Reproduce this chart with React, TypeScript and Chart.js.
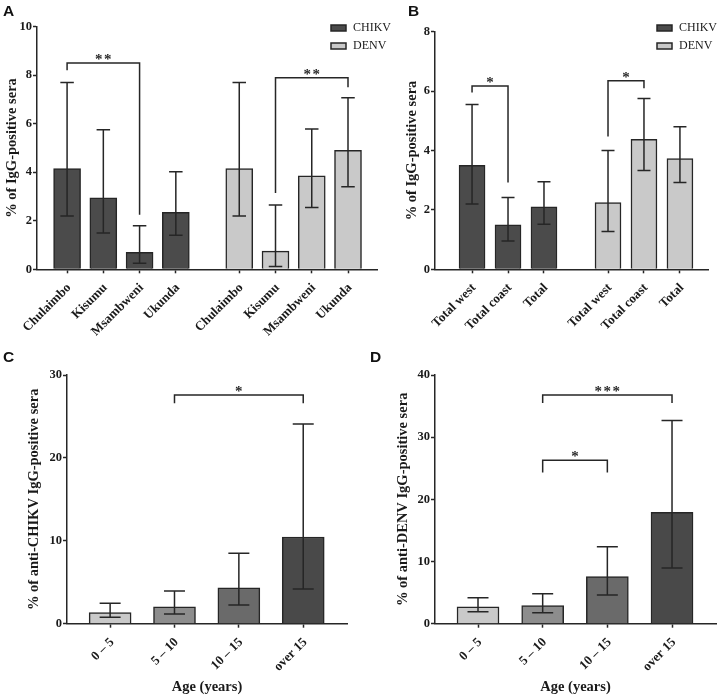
import React, { useEffect, useRef } from 'react';
import { Chart, registerables } from 'chart.js';

Chart.register(...registerables);

const PAGE_W = 717;
const PAGE_H = 696;

// ---------- Panel A data ----------
const aCategories = ['Chulaimbo', 'Kisumu', 'Msambweni', 'Ukunda'];
const aPosChikv = [0, 1, 2, 3];
const aPosDenv = [4.75, 5.75, 6.75, 7.75];
const aChikv = [4.15, 2.95, 0.7, 2.35];
const aChikvLow = [2.2, 1.5, 0.25, 1.4];
const aChikvHigh = [7.7, 5.75, 1.8, 4.02];
const aDenv = [4.15, 0.75, 3.85, 4.9];
const aDenvLow = [2.2, 0.12, 2.55, 3.4];
const aDenvHigh = [7.7, 2.65, 5.78, 7.07];
const aTicks = [0, 2, 4, 6, 8, 10];

// ---------- Panel B data ----------
const bCategories = ['Total west', 'Total coast', 'Total'];
const bPosChikv = [0, 1, 2];
const bPosDenv = [3.78, 4.78, 5.78];
const bChikv = [3.5, 1.5, 2.1];
const bChikvLow = [2.2, 0.95, 1.52];
const bChikvHigh = [5.55, 2.42, 2.95];
const bDenv = [2.25, 4.38, 3.73];
const bDenvLow = [1.27, 3.33, 2.92];
const bDenvHigh = [4.0, 5.75, 4.8];
const bTicks = [0, 2, 4, 6, 8];

// ---------- Panels C / D data ----------
const ageGroups = ['0 \u2013 5', '5 \u2013 10', '10 \u2013 15', 'over 15'];
const agePos = [0, 1, 2, 3];
const ageColors = ['#c9c9c9', '#8d8d8d', '#6a6a6a', '#494949'];
const cChikv = [1.33, 2.05, 4.34, 10.46];
const cChikvLow = [0.77, 1.17, 2.26, 4.19];
const cChikvHigh = [2.46, 3.94, 8.49, 24.1];
const cTicks = [0, 10, 20, 30];
const dDenv = [2.73, 2.9, 7.56, 17.9];
const dDenvLow = [1.93, 1.77, 4.61, 8.96];
const dDenvHigh = [4.18, 4.82, 12.38, 32.7];
const dTicks = [0, 10, 20, 30, 40];

const legendItems = [
  { label: 'CHIKV', color: '#4b4b4b' },
  { label: 'DENV', color: '#c9c9c9' },
];

const INK = '#262626';
const SERIF = '"Liberation Serif", "Times New Roman", serif';
const SANS = '"Liberation Sans", Arial, sans-serif';

type Bracket = { x1: number; x2: number; top: number; leg1: number; leg2: number; label: string };
type Series = { pos: number[]; values: number[]; low: number[]; high: number[]; colors: string | string[]; label: string };
type Panel = {
  letter: string;
  letterX: number;
  letterY: number;
  area: { l: number; t: number; r: number; b: number };
  xMin: number;
  xMax: number;
  yTicks: number[];
  tickPos: number[];
  tickLabels: string[];
  series: Series[];
  barW: number;
  brackets: Bracket[];
  yTitle: string;
  yTitleX: number;
  xTitle?: string;
  xTitleY?: number;
  legend?: { x: number; y: number };
};

const panels: Panel[] = [
  {
    letter: 'A', letterX: 3, letterY: 16,
    area: { l: 37, t: 26.7, r: 377, b: 269.3 },
    xMin: -0.83, xMax: 8.55, yTicks: aTicks,
    tickPos: [...aPosChikv, ...aPosDenv],
    tickLabels: [...aCategories, ...aCategories],
    series: [
      { label: 'CHIKV', pos: aPosChikv, values: aChikv, low: aChikvLow, high: aChikvHigh, colors: legendItems[0].color },
      { label: 'DENV', pos: aPosDenv, values: aDenv, low: aDenvLow, high: aDenvHigh, colors: legendItems[1].color },
    ],
    barW: 27,
    brackets: [
      { x1: 0, x2: 2, top: 8.5, leg1: 8.2, leg2: 2.25, label: '**' },
      { x1: 5.75, x2: 7.75, top: 7.9, leg1: 3.15, leg2: 7.5, label: '**' },
    ],
    yTitle: '% of IgG-positive sera', yTitleX: 12,
    legend: { x: 331, y: 28 },
  },
  {
    letter: 'B', letterX: 408, letterY: 16,
    area: { l: 435, t: 31.7, r: 708, b: 269.3 },
    xMin: -1.03, xMax: 6.56, yTicks: bTicks,
    tickPos: [...bPosChikv, ...bPosDenv],
    tickLabels: [...bCategories, ...bCategories],
    series: [
      { label: 'CHIKV', pos: bPosChikv, values: bChikv, low: bChikvLow, high: bChikvHigh, colors: legendItems[0].color },
      { label: 'DENV', pos: bPosDenv, values: bDenv, low: bDenvLow, high: bDenvHigh, colors: legendItems[1].color },
    ],
    barW: 26,
    brackets: [
      { x1: 0, x2: 1, top: 6.17, leg1: 5.95, leg2: 2.92, label: '*' },
      { x1: 3.78, x2: 4.78, top: 6.35, leg1: 4.47, leg2: 6.1, label: '*' },
    ],
    yTitle: '% of IgG-positive sera', yTitleX: 412,
    legend: { x: 657, y: 28 },
  },
  {
    letter: 'C', letterX: 3, letterY: 362,
    area: { l: 67, t: 375, r: 347, b: 623.7 },
    xMin: -0.67, xMax: 3.68, yTicks: cTicks,
    tickPos: agePos, tickLabels: ageGroups,
    series: [
      { label: 'CHIKV', pos: agePos, values: cChikv, low: cChikvLow, high: cChikvHigh, colors: ageColors },
    ],
    barW: 42,
    brackets: [{ x1: 1, x2: 3, top: 27.6, leg1: 26.6, leg2: 26.6, label: '*' }],
    yTitle: '% of anti-CHIKV IgG-positive sera', yTitleX: 34,
    xTitle: 'Age (years)', xTitleY: 687,
  },
  {
    letter: 'D', letterX: 370, letterY: 362,
    area: { l: 435, t: 375, r: 716, b: 623.7 },
    xMin: -0.665, xMax: 3.68, yTicks: dTicks,
    tickPos: agePos, tickLabels: ageGroups,
    series: [
      { label: 'DENV', pos: agePos, values: dDenv, low: dDenvLow, high: dDenvHigh, colors: ageColors },
    ],
    barW: 42,
    brackets: [
      { x1: 1, x2: 3, top: 36.8, leg1: 35.5, leg2: 35.5, label: '***' },
      { x1: 1, x2: 2, top: 26.3, leg1: 24.3, leg2: 24.3, label: '*' },
    ],
    yTitle: '% of anti-DENV IgG-positive sera', yTitleX: 403,
    xTitle: 'Age (years)', xTitleY: 687,
  },
];

function overlayPlugin(p: Panel) {
  return {
    id: 'overlay' + p.letter,
    afterDatasetsDraw(chart: any) {
      const ctx = chart.ctx as CanvasRenderingContext2D;
      const xs = chart.scales.x;
      const ys = chart.scales.y;
      ctx.save();
      ctx.strokeStyle = INK;
      ctx.lineWidth = 1.5;
      ctx.lineCap = 'butt';
      // error bars
      const cap = p.barW / 4;
      p.series.forEach((s) => {
        s.pos.forEach((v, i) => {
          const x = xs.getPixelForValue(v);
          const yl = ys.getPixelForValue(s.low[i]);
          const yh = ys.getPixelForValue(s.high[i]);
          ctx.beginPath();
          ctx.moveTo(x, yl);
          ctx.lineTo(x, yh);
          ctx.moveTo(x - cap, yl);
          ctx.lineTo(x + cap, yl);
          ctx.moveTo(x - cap, yh);
          ctx.lineTo(x + cap, yh);
          ctx.stroke();
        });
      });
      // significance brackets
      p.brackets.forEach((b) => {
        const x1 = xs.getPixelForValue(b.x1);
        const x2 = xs.getPixelForValue(b.x2);
        const yt = ys.getPixelForValue(b.top);
        ctx.beginPath();
        ctx.moveTo(x1, ys.getPixelForValue(b.leg1));
        ctx.lineTo(x1, yt);
        ctx.lineTo(x2, yt);
        ctx.lineTo(x2, ys.getPixelForValue(b.leg2));
        ctx.stroke();
        ctx.fillStyle = '#2a2a2a';
        ctx.font = `bold 15px ${SERIF}`;
        ctx.textAlign = 'center';
        ctx.textBaseline = 'alphabetic';
        const n = b.label.length;
        const step = 9;
        const cx = (x1 + x2) / 2;
        for (let k = 0; k < n; k++) {
          ctx.fillText('*', cx + (k - (n - 1) / 2) * step, yt + 1);
        }
      });
      ctx.restore();
    },
    afterDraw(chart: any) {
      const ctx = chart.ctx as CanvasRenderingContext2D;
      const area = chart.chartArea;
      ctx.save();
      ctx.fillStyle = '#111111';
      // panel letter
      ctx.font = `bold 15.5px ${SANS}`;
      ctx.textAlign = 'left';
      ctx.textBaseline = 'alphabetic';
      ctx.fillText(p.letter, p.letterX, p.letterY);
      ctx.fillStyle = '#1a1a1a';
      // y title
      ctx.font = `bold 14.5px ${SERIF}`;
      ctx.save();
      ctx.translate(p.yTitleX, (area.top + area.bottom) / 2);
      ctx.rotate(-Math.PI / 2);
      ctx.textAlign = 'center';
      ctx.textBaseline = 'middle';
      ctx.fillText(p.yTitle, 0, 0);
      ctx.restore();
      // x title
      if (p.xTitle && p.xTitleY) {
        ctx.textAlign = 'center';
        ctx.textBaseline = 'middle';
        ctx.fillText(p.xTitle, (area.left + area.right) / 2, p.xTitleY);
      }
      // legend
      if (p.legend) {
        ctx.font = `12px ${SERIF}`;
        legendItems.forEach((it, i) => {
          const y = p.legend!.y + i * 18;
          ctx.fillStyle = it.color;
          ctx.fillRect(p.legend!.x, y - 3, 15, 6);
          ctx.strokeStyle = INK;
          ctx.lineWidth = 1.5;
          ctx.strokeRect(p.legend!.x, y - 3, 15, 6);
          ctx.fillStyle = '#1a1a1a';
          ctx.textAlign = 'left';
          ctx.textBaseline = 'middle';
          ctx.fillText(it.label, p.legend!.x + 22, y);
        });
      }
      ctx.restore();
    },
  };
}

function makeConfig(p: Panel): any {
  const yMax = p.yTicks[p.yTicks.length - 1];
  const xAxisH = PAGE_H - p.area.b;
  return {
    type: 'bar',
    data: {
      datasets: p.series.map((s) => ({
        label: s.label,
        data: s.pos.map((x, i) => ({ x, y: s.values[i] })),
        backgroundColor: s.colors,
        borderColor: INK,
        borderWidth: 1.5,
        borderSkipped: 'start',
        barThickness: p.barW,
        maxBarThickness: p.barW,
        barPercentage: 1,
        categoryPercentage: 1,
        grouped: false,
      })),
    },
    options: {
      animation: false,
      responsive: false,
      devicePixelRatio: 1,
      events: [],
      layout: {
        padding: {
          left: 0,
          top: p.area.t,
          right: PAGE_W - p.area.r,
          bottom: 0,
        },
      },
      plugins: {
        legend: { display: false },
        tooltip: { enabled: false },
        title: { display: false },
      },
      scales: {
        x: {
          type: 'linear',
          min: p.xMin,
          max: p.xMax,
          bounds: 'data',
          offset: false,
          afterFit: (s: any) => { s.height = xAxisH; },
          afterBuildTicks: (s: any) => { s.ticks = p.tickPos.map((v) => ({ value: v })); },
          border: { display: true, color: INK, width: 1.5 },
          grid: { display: true, offset: false, drawOnChartArea: false, drawTicks: true, tickLength: 4, tickWidth: 1.5, tickColor: INK },
          ticks: {
            autoSkip: false,
            maxRotation: 45,
            minRotation: 45,
            padding: 7,
            labelOffset: 2,
            color: '#1a1a1a',
            font: { family: SERIF, size: 13, weight: 'bold' },
            callback: (_v: any, i: number) => p.tickLabels[i],
          },
        },
        y: {
          type: 'linear',
          min: 0,
          max: yMax,
          afterFit: (s: any) => { s.width = p.area.l; },
          afterBuildTicks: (s: any) => { s.ticks = p.yTicks.map((v) => ({ value: v })); },
          border: { display: true, color: INK, width: 1.5 },
          grid: { display: true, drawOnChartArea: false, drawTicks: true, tickLength: 4, tickWidth: 1.5, tickColor: INK },
          ticks: {
            padding: 1,
            color: '#1a1a1a',
            font: { family: SERIF, size: 12.5, weight: 'bold' },
            callback: (v: any) => String(v),
          },
        },
      },
    },
    plugins: [overlayPlugin(p)],
  };
}

function PanelChart({ panel }: { panel: Panel }) {
  const ref = useRef<HTMLCanvasElement | null>(null);
  useEffect(() => {
    if (!ref.current) return;
    const chart = new Chart(ref.current, makeConfig(panel));
    return () => chart.destroy();
  }, [panel]);
  return (
    <canvas
      ref={ref}
      width={PAGE_W}
      height={PAGE_H}
      style={{ position: 'absolute', left: 0, top: 0, width: PAGE_W, height: PAGE_H }}
    />
  );
}

export default function App() {
  return (
    <div
      style={{
        position: 'fixed',
        left: 0,
        top: 0,
        width: PAGE_W,
        height: PAGE_H,
        background: '#ffffff',
        overflow: 'hidden',
      }}
    >
      {panels.map((p) => (
        <PanelChart key={p.letter} panel={p} />
      ))}
    </div>
  );
}
